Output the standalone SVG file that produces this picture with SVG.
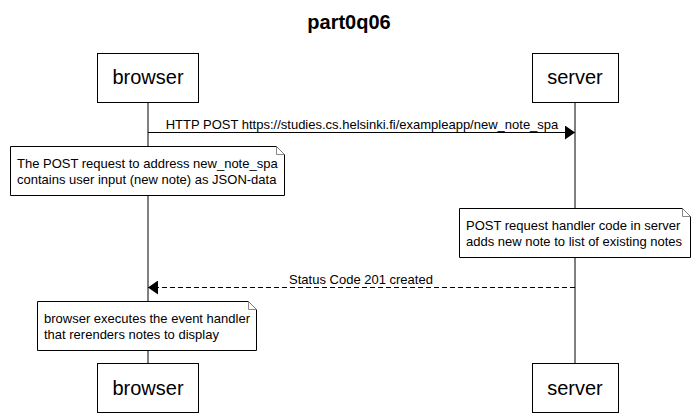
<svg xmlns="http://www.w3.org/2000/svg" width="698" height="419" viewBox="0 0 698 419">
<style>
.bg{fill:#ffffff}
.actor{fill:#ffffff;stroke:#000000;stroke-width:1}
.actor-t{font-family:"Liberation Sans",Arial,sans-serif;font-size:20px;fill:#000000;text-anchor:middle}
.title{font-family:"Liberation Sans",Arial,sans-serif;font-size:20px;font-weight:bold;fill:#000000;text-anchor:middle}
.life{stroke:#000000;stroke-width:1;fill:none}
.msg{stroke:#000000;stroke-width:1;fill:none}
.dash{stroke-dasharray:5,3}
.lbl{font-family:"Liberation Sans",Arial,sans-serif;font-size:13px;fill:#000000;text-anchor:middle}
.note{fill:#ffffff;stroke:#000000;stroke-width:1}
.fold{fill:#ffffff;stroke:#888888;stroke-width:1}
.note-t{font-family:"Liberation Sans",Arial,sans-serif;font-size:13px;fill:#000000}
</style>
<defs>
<marker id="ah" viewBox="0 0 10 14" refX="10" refY="7" markerWidth="10" markerHeight="14" markerUnits="userSpaceOnUse" orient="auto">
<path d="M0,0 L10,7 L0,14 z" fill="#000000"/>
</marker>
</defs>
<rect class="bg" x="0" y="0" width="698" height="419"/>
<text class="title" x="349" y="29">part0q06</text>

<g id="lifelines">
<line class="life" x1="148" y1="102" x2="148" y2="363"/>
<line class="life" x1="575" y1="102" x2="575" y2="363"/>
</g>

<g id="browser">
<rect class="actor" x="97.5" y="53.5" width="101" height="49"/>
<text class="actor-t" x="148" y="84">browser</text>
</g>
<g id="server">
<rect class="actor" x="532.5" y="53.5" width="86" height="49"/>
<text class="actor-t" x="575" y="84">server</text>
</g>
<g id="browser-bottom">
<rect class="actor" x="97.5" y="363.5" width="101" height="49"/>
<text class="actor-t" x="148" y="395">browser</text>
</g>
<g id="server-bottom">
<rect class="actor" x="532.5" y="363.5" width="86" height="49"/>
<text class="actor-t" x="575" y="395">server</text>
</g>

<g id="connectors">
<line class="msg" x1="148" y1="132.5" x2="575" y2="132.5" marker-end="url(#ah)"/>
<text class="lbl" x="362" y="129">HTTP POST https://studies.cs.helsinki.fi/exampleapp/new_note_spa</text>
<line class="msg dash" x1="575" y1="287.5" x2="148" y2="287.5" marker-end="url(#ah)"/>
<text class="lbl" x="361" y="284">Status Code 201 created</text>
</g>

<g id="note1">
<path class="note" d="M10.5,146.5 H276.5 L284.5,154.5 V195.5 H10.5 Z"/>
<path class="fold" d="M276.5,146.5 V154.5 H284.5"/>
<text class="note-t" x="17" y="167.5">The POST request to address new_note_spa</text>
<text class="note-t" x="17" y="183.5">contains user input (new note) as JSON-data</text>
</g>
<g id="note2">
<path class="note" d="M459.5,208.5 H682.5 L690.5,216.5 V257.5 H459.5 Z"/>
<path class="fold" d="M682.5,208.5 V216.5 H690.5"/>
<text class="note-t" x="466" y="229.5">POST request handler code in server</text>
<text class="note-t" x="466" y="245.5">adds new note to list of existing notes</text>
</g>
<g id="note3">
<path class="note" d="M37.5,301.5 H248.5 L256.5,309.5 V350.5 H37.5 Z"/>
<path class="fold" d="M248.5,301.5 V309.5 H256.5"/>
<text class="note-t" x="44" y="322.5">browser executes the event handler</text>
<text class="note-t" x="44" y="338.5">that rerenders notes to display</text>
</g>
</svg>
